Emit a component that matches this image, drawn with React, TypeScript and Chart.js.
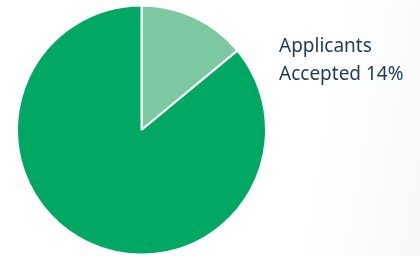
import React, { useEffect, useRef } from "react";
import { Chart, registerables } from "chart.js";

Chart.register(...registerables);

const categories = ["Accepted", "Not accepted"];
const values = [14, 86];
const colors = ["#7cc8a0", "#00a864"];
const labelLines = ["Applicants", "Accepted 14%"];

export default function App() {
  const ref = useRef<HTMLCanvasElement | null>(null);
  useEffect(() => {
    document.body.style.margin = "0";
    const textPlugin = {
      id: "sideText",
      afterDraw(chart: any) {
        const ctx = chart.ctx;
        ctx.save();
        ctx.fillStyle = "#1d3a58";
        ctx.font = "19px 'Noto Sans', sans-serif";
        ctx.textBaseline = "middle";
        ctx.textAlign = "left";
        labelLines.forEach((t, i) => ctx.fillText(t, 279, 47 + i * 28));
        ctx.restore();
      },
    };
    const chart = new Chart(ref.current!, {
      type: "pie",
      data: {
        labels: categories,
        datasets: [
          {
            data: values,
            backgroundColor: colors,
            borderColor: "#ffffff",
            borderWidth: 2,
          },
        ],
      },
      options: {
        animation: false,
        responsive: false,
        maintainAspectRatio: false,
        layout: { padding: { left: 16, right: 153, top: 4, bottom: 0 } },
        plugins: { legend: { display: false }, tooltip: { enabled: false } },
      },
      plugins: [textPlugin],
    });
    return () => chart.destroy();
  }, []);
  return (
    <div
      style={{
        position: "fixed",
        left: 0,
        top: 0,
        width: 420,
        height: 256,
        background: "linear-gradient(100deg, #ffffff 72%, #f6f8f8 100%)",
      }}
    >
      <canvas ref={ref} width={420} height={256} />
    </div>
  );
}
